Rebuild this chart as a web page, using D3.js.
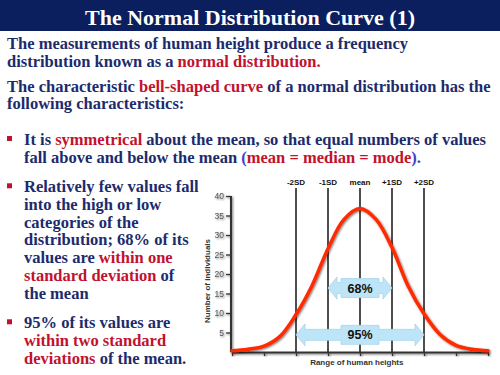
<!DOCTYPE html>
<html><head><meta charset="utf-8">
<script src="https://cdn.jsdelivr.net/npm/d3@7"></script>
<style>body{margin:0;background:#fff}svg{display:block}</style>
</head><body>
<svg id="c" width="500" height="375"></svg>
<script>
// ---- data ----
const titleText = "The Normal Distribution Curve (1)";
const curveX = [0,0.5,1,1.5,2,2.5,3,3.5,4,4.5,5,5.5,6,6.5,7,7.5,8];
const curveY = [0.3,0.7,1.5,4,9.6,17,26.5,34,36.8,34,26.8,17,9.8,4.5,1.7,0.7,0.3];
const yTicks = [5,10,15,20,25,30,35,40];
const xTicks = [0,1,2,3,4,5,6,7,8];
const sdLabels = ["-2SD","-1SD","mean","+1SD","+2SD"];
const sdPositions = [2,3,4,5,6];
const bandLabels = ["68%","95%"];
const bandFrom = [3,2];
const bandTo = [5,6];
const bandLevel = [16.4,4.4];
const yLabel = "Number of individuals";
const xLabel = "Range of human heights";

// text lines: arrays of [text, colorKey]
const introLines = [
  [["The measurements of human height produce a frequency","n"]],
  [["distribution known as a ","n"],["normal distribution.","r"]],
  [["The characteristic ","n"],["bell-shaped curve","r"],[" of a normal distribution has the","n"]],
  [["following characteristics:","n"]]
];
const introBase = [49,66.7,91.7,109.4];
const bullets = [
  {base:[145,162.7], lines:[
    [["It is ","n"],["symmetrical","r"],[" about the mean, so that equal numbers of values","n"]],
    [["fall above and below the mean ","n"],["(","b"],["mean = median = mode","r"],[").","b"]]
  ]},
  {base:[192.3,210,227.7,245.4,263.1,280.8,298.5], lines:[
    [["Relatively few values fall","n"]],
    [["into the high or low","n"]],
    [["categories of the","n"]],
    [["distribution; 68% of its","n"]],
    [["values are ","n"],["within one","r"]],
    [["standard deviation","r"],[" of","n"]],
    [["the mean","n"]]
  ]},
  {base:[328.3,346,363.7], lines:[
    [["95% of its values are","n"]],
    [["within two standard","r"]],
    [["deviations","r"],[" of the mean.","n"]]
  ]}
];
const colors = {n:"#1c2b6c", r:"#c2122e", b:"#3b40c8"};

// ---- drawing ----
const svg = d3.select("#c");
const defs = svg.append("defs");
const f = defs.append("filter").attr("id","sh").attr("x","-20%").attr("y","-20%").attr("width","140%").attr("height","140%");
f.append("feGaussianBlur").attr("in","SourceAlpha").attr("stdDeviation",1.2).attr("result","b");
f.append("feOffset").attr("in","b").attr("dx",1).attr("dy",1.2).attr("result","o");
f.append("feComponentTransfer").attr("in","o").attr("result","o2").append("feFuncA").attr("type","linear").attr("slope",0.55);
const fm = f.append("feMerge"); fm.append("feMergeNode").attr("in","o2"); fm.append("feMergeNode").attr("in","SourceGraphic");

// title bar
svg.append("rect").attr("x",0).attr("y",0).attr("width",500).attr("height",31).attr("fill","#0b1f5e");
svg.append("text").attr("x",250).attr("y",24.5).attr("text-anchor","middle")
  .attr("font-family","Liberation Serif, Times New Roman, serif").attr("font-weight","bold")
  .attr("font-size",22).attr("fill","#fff").text(titleText);

const serif = "Liberation Serif, Times New Roman, serif";
function writeLine(x, y, segs){
  const t = svg.append("text").attr("x",x).attr("y",y).attr("font-family",serif)
    .attr("font-weight","bold").attr("font-size",16.5).attr("xml:space","preserve");
  segs.forEach(s => t.append("tspan").attr("fill",colors[s[1]]).text(s[0]));
}
introLines.forEach((l,i)=>writeLine(7,introBase[i],l));
bullets.forEach(b=>{
  svg.append("rect").attr("x",7).attr("y",b.base[0]-9).attr("width",5).attr("height",5).attr("fill","#c2122e");
  b.lines.forEach((l,i)=>writeLine(24,b.base[i],l));
});

// chart
const x = d3.scaleLinear().domain([0,8]).range([232,488]);
const y = d3.scaleLinear().domain([0,40]).range([352,196]);
const sans = "Liberation Sans, Arial, sans-serif";

// SD lines
const sdG = svg.append("g");
sdPositions.forEach((p,i)=>{
  sdG.append("line").attr("x1",x(p)).attr("x2",x(p)).attr("y1",y.range()[1]-8).attr("y2",y(0))
    .attr("stroke","#222").attr("stroke-width",1.6);
  sdG.append("text").attr("x",x(p)).attr("y",y.range()[1]-11).attr("text-anchor","middle")
    .attr("font-family",sans).attr("font-weight","bold").attr("font-size",8).attr("fill","#111").text(sdLabels[i]);
});

// axes
const gy = svg.append("g").attr("transform",`translate(${x(0)-1},0)`).attr("filter","url(#sh)")
  .call(d3.axisLeft(y).tickValues(yTicks).tickSize(5).tickSizeOuter(0).tickPadding(2));
gy.select(".domain").attr("stroke","#333").attr("stroke-width",2).attr("d",`M0,${y(0)}V${y(40)}`);
gy.selectAll(".tick line").attr("stroke","#333").attr("stroke-width",1.3);
gy.selectAll(".tick text").attr("font-family",sans).attr("font-size",8.5).attr("fill","#555");

const gx = svg.append("g").attr("transform",`translate(0,${y(0)})`).attr("filter","url(#sh)")
  .call(d3.axisBottom(x).tickValues(xTicks).tickSize(4).tickSizeOuter(0).tickFormat(""));
gx.select(".domain").attr("stroke","#333").attr("stroke-width",2);
gx.selectAll(".tick line").attr("stroke","#333").attr("stroke-width",1.3);

// curve
const pts = curveX.map((v,i)=>[v,curveY[i]]);
svg.append("path").datum(pts).attr("fill","none").attr("stroke","#ff2a00").attr("stroke-width",3.5)
  .attr("stroke-linecap","round").attr("filter","url(#sh)")
  .attr("d",d3.line().x(d=>x(d[0])).y(d=>y(d[1])).curve(d3.curveCatmullRom.alpha(0.5)));

// band arrows
bandLabels.forEach((lab,i)=>{
  const x1 = x(bandFrom[i]), x2 = x(bandTo[i]), yc = y(bandLevel[i]), cx = (x1+x2)/2;
  const hh = 11, sh = 5.5, hd = 9, bw = 19, bh = 9.5;
  const p = [
    [x1,yc],[x1+hd,yc-hh],[x1+hd,yc-sh],[cx-bw,yc-sh],[cx-bw,yc-bh],[cx+bw,yc-bh],[cx+bw,yc-sh],
    [x2-hd,yc-sh],[x2-hd,yc-hh],[x2,yc],[x2-hd,yc+hh],[x2-hd,yc+sh],[cx+bw,yc+sh],[cx+bw,yc+bh],
    [cx-bw,yc+bh],[cx-bw,yc+sh],[x1+hd,yc+sh],[x1+hd,yc+hh]
  ];
  svg.append("polygon").attr("points",p.map(d=>d.join(",")).join(" "))
    .attr("fill","#bde5f7").attr("stroke","#a6d6ee").attr("stroke-width",0.8);
  svg.append("text").attr("x",cx).attr("y",yc+4.5).attr("text-anchor","middle")
    .attr("font-family",sans).attr("font-weight","bold").attr("font-size",12.5).attr("fill","#111").text(lab);
});

// axis labels
svg.append("text").attr("transform",`translate(${x(0)-22},${y(20)+7}) rotate(-90)`).attr("text-anchor","middle")
  .attr("font-family",sans).attr("font-weight","bold").attr("font-size",8).attr("fill","#333").text(yLabel);
svg.append("text").attr("x",x(3.9)).attr("y",y(0)+13).attr("text-anchor","middle")
  .attr("font-family",sans).attr("font-weight","bold").attr("font-size",8).attr("fill","#333").text(xLabel);
</script>
</body></html>
